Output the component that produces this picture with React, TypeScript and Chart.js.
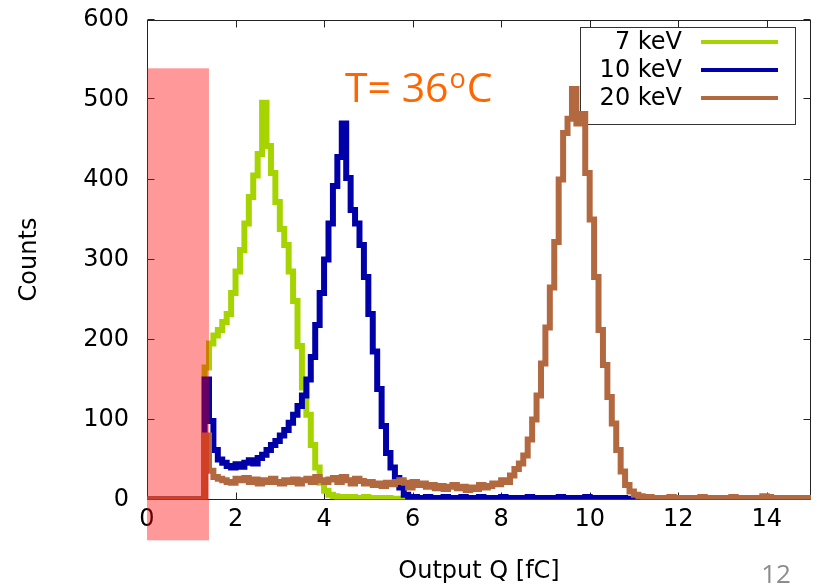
import React, { useEffect, useRef } from "react";
import { Chart, registerables } from "chart.js";

Chart.register(...registerables);

// ---- data ----
const BIN_WIDTH = 0.1; // fC, bins start at 0
const X_MIN = 0;
const X_MAX = 15;
const Y_MIN = 0;
const Y_MAX = 600;
const X_TICK_STEP = 2;
const Y_TICK_STEP = 100;
const X_TITLE = "Output Q [fC]";
const Y_TITLE = "Counts";

const SERIES_LABELS = ["7 keV", "10 keV", "20 keV"];
const SERIES_COLORS = ["#a6d400", "#0000a8", "#b3693f"];

const COUNTS_7KEV = [
  0, 0, 0, 0, 0, 0, 0, 0, 0, 0, 0, 0, 0, 0,
  165, 195, 205, 212, 222, 232, 258, 285, 312, 345, 378, 405, 432, 496, 442, 408,
  372, 338, 318, 285, 248, 192, 140, 106, 68, 40, 21, 11, 6, 4,
  3, 3, 2, 3, 2, 2, 3, 2, 2, 2, 1, 2, 1, 1,
  0, 0, 0, 0, 0, 0, 0, 0, 0, 0, 0, 0, 0, 0, 0, 0, 0, 0, 0, 0, 0, 0,
  0, 0, 0, 0, 0, 0, 0, 0, 0, 0, 0, 0, 0, 0, 0, 0, 0, 0, 0, 0, 0, 0,
  0, 0, 0, 0, 0, 0, 0, 0, 0, 0, 0, 0, 0, 0, 0, 0, 0, 0, 0, 0, 0, 0,
  0, 0, 0, 0, 0, 0, 0, 0, 0, 0, 0, 0, 0, 0, 0, 0, 0, 0, 0, 0, 0, 0,
  0, 0, 0, 0,
];

const COUNTS_10KEV = [
  0, 0, 0, 0, 0, 0, 0, 0, 0, 0, 0, 0, 0, 0,
  150, 98, 62, 50, 46, 42, 40, 44, 41, 46, 49, 45, 52, 56, 62, 68,
  73, 80, 87, 96, 106, 117, 130, 150, 178, 218, 258, 300, 345, 392, 428, 470,
  402, 362, 345, 318, 278, 232, 185, 138, 92, 58, 40, 27, 15, 6,
  2, 3, 2, 2, 3, 2, 1, 2, 3, 2, 2, 2, 3, 1, 2, 2, 3, 2, 2, 1,
  2, 3, 2, 2, 1, 2, 2, 3, 2, 2, 1, 2, 2, 2, 3, 2, 1, 2, 2, 2,
  3, 2, 2, 1, 2, 2, 2, 1, 2, 1, 1,
  0, 0, 0, 0, 0, 0, 0, 0, 0, 0, 0, 0, 0, 0, 0, 0, 0, 0, 0, 0,
  0, 0, 0, 0, 0, 0, 0, 0, 0, 0, 0, 0, 0, 0, 0, 0, 0, 0, 0,
];

const COUNTS_20KEV = [
  0, 0, 0, 0, 0, 0, 0, 0, 0, 0, 0, 0, 0, 0,
  80, 36, 28, 26, 24, 22, 21, 26, 24, 27, 22, 25, 20, 24, 22, 26,
  22, 20, 24, 22, 25, 20, 24, 26, 22, 28, 24, 22, 25, 27, 22, 28,
  24, 20, 26, 23, 20, 22, 18, 20, 17, 21, 19, 22, 24, 21,
  15, 22, 18, 20, 16, 18, 14, 17, 13, 16, 18, 14, 16, 12, 15, 13,
  18, 15, 17, 20, 19, 24, 22, 30, 38, 45, 55, 75, 100, 130,
  170, 215, 265, 322, 400, 458, 476, 513, 470, 482,
  408, 350, 278, 212, 168, 128, 95, 62, 35, 18, 10, 6, 4,
  2, 3, 2, 2, 1, 2, 3, 2, 2, 2, 1, 2, 2, 3, 2, 2, 2, 1, 2, 2,
  3, 2, 2, 2, 2, 1, 2, 4, 3, 2, 2, 2, 1, 2, 2, 2, 2,
];

const SERIES_COUNTS = [COUNTS_7KEV, COUNTS_10KEV, COUNTS_20KEV];

// shaded threshold region (in data units)
const THRESHOLD_X_FROM = 0;
const THRESHOLD_X_TO = 1.4;
const THRESHOLD_Y_TOP = 539;
const THRESHOLD_Y_BOTTOM = -51;

const TEMP_MAIN = "T= 36";
const TEMP_SUP = "o";
const TEMP_UNIT = "C";
const PAGE_NUMBER = "12";

// ---- helpers ----
function toHistogramPoints(counts: number[]) {
  const pts = counts.map((c, i) => ({ x: +(i * BIN_WIDTH).toFixed(3), y: c }));
  pts.push({ x: +(counts.length * BIN_WIDTH).toFixed(3), y: counts[counts.length - 1] });
  return pts;
}

const AXIS_FONT = "'DejaVu Sans', sans-serif";
const FONT_SIZE = 24;

const decorPlugin = {
  id: "decor",
  beforeDatasetsDraw(chart: any) {
    const { ctx, chartArea, scales } = chart;
    const { left, right, top, bottom } = chartArea;
    const xs = scales.x;
    const ys = scales.y;
    ctx.save();
    // frame
    ctx.strokeStyle = "#222";
    ctx.lineWidth = 1;
    const L = Math.round(left) + 0.5;
    const R = Math.round(right) - 0.5;
    const T = Math.round(top) + 0.5;
    const B = Math.round(bottom) - 0.5;
    ctx.strokeRect(L, T, R - L, B - T);
    // inward ticks on all sides
    const tl = 7;
    ctx.beginPath();
    xs.ticks.forEach((t: any) => {
      const px = Math.round(xs.getPixelForValue(t.value)) + 0.5;
      ctx.moveTo(px, B);
      ctx.lineTo(px, B - tl);
      ctx.moveTo(px, T);
      ctx.lineTo(px, T + tl);
    });
    ys.ticks.forEach((t: any) => {
      const py = Math.round(ys.getPixelForValue(t.value)) - 0.5;
      ctx.moveTo(L, py);
      ctx.lineTo(L + tl, py);
      ctx.moveTo(R, py);
      ctx.lineTo(R - tl, py);
    });
    ctx.stroke();

    // legend box (gnuplot style)
    const boxRight = right - 16;
    const boxLeft = boxRight - 215;
    const boxTop = top + 7.5;
    const rowH = 28;
    const n = chart.data.datasets.length;
    const boxBottom = boxTop + 14 + rowH * n - 1;
    ctx.strokeStyle = "#333";
    ctx.strokeRect(Math.round(boxLeft) + 0.5, Math.round(boxTop) + 0.5, Math.round(boxRight - boxLeft), Math.round(boxBottom - boxTop));
    ctx.font = `${FONT_SIZE}px ${AXIS_FONT}`;
    ctx.textAlign = "right";
    ctx.textBaseline = "middle";
    chart.data.datasets.forEach((ds: any, i: number) => {
      const cy = boxTop + 15 + rowH * i;
      ctx.fillStyle = "#000";
      ctx.fillText(ds.label, boxRight - 113, cy + 1);
      ctx.strokeStyle = ds.borderColor;
      ctx.lineWidth = 4;
      ctx.beginPath();
      ctx.moveTo(boxRight - 94, cy);
      ctx.lineTo(boxRight - 17, cy);
      ctx.stroke();
    });
    ctx.restore();
  },
  afterDraw(chart: any) {
    const { ctx, chartArea, scales } = chart;
    const xs = scales.x;
    const ys = scales.y;
    ctx.save();
    // threshold shading, drawn over everything
    const x0 = xs.getPixelForValue(THRESHOLD_X_FROM);
    const x1 = xs.getPixelForValue(THRESHOLD_X_TO);
    const y0 = ys.getPixelForValue(THRESHOLD_Y_TOP);
    const y1 = ys.getPixelForValue(THRESHOLD_Y_BOTTOM);
    ctx.fillStyle = "rgba(255, 0, 0, 0.4)";
    ctx.fillRect(x0, y0, x1 - x0, y1 - y0);

    // temperature annotation
    const tx = chartArea.left + 198;
    const tBase = chartArea.top + 82;
    ctx.fillStyle = "#ff6600";
    ctx.textAlign = "left";
    ctx.textBaseline = "alphabetic";
    ctx.font = "41px 'Open Sans', sans-serif";
    ctx.fillText(TEMP_MAIN, tx, tBase);
    let w = ctx.measureText(TEMP_MAIN).width;
    ctx.font = "27px 'Open Sans', sans-serif";
    ctx.fillText(TEMP_SUP, tx + w + 1, tBase - 14);
    w += ctx.measureText(TEMP_SUP).width + 2;
    ctx.font = "41px 'Open Sans', sans-serif";
    ctx.fillText(TEMP_UNIT, tx + w, tBase);

    // slide page number
    ctx.fillStyle = "#8c8c8c";
    ctx.textAlign = "center";
    ctx.font = "26px 'Open Sans', sans-serif";
    ctx.fillText(PAGE_NUMBER, chartArea.right - 35, chart.height - 5);
    ctx.restore();
  },
};

export default function App() {
  const ref = useRef<HTMLCanvasElement>(null);

  useEffect(() => {
    const canvas = ref.current;
    if (!canvas) return;
    const datasets = SERIES_LABELS.map((label, i) => ({
      label,
      data: toHistogramPoints(SERIES_COUNTS[i]),
      borderColor: SERIES_COLORS[i],
      backgroundColor: SERIES_COLORS[i],
      borderWidth: 6,
      stepped: "after" as const,
      pointRadius: 0,
      fill: false,
      borderJoinStyle: "miter" as const,
      order: SERIES_LABELS.length - i,
    }));

    const chart = new Chart(canvas, {
      type: "line",
      data: { datasets },
      plugins: [decorPlugin],
      options: {
        animation: false,
        responsive: false,
        devicePixelRatio: 1,
        layout: { padding: { top: 19.5, right: 6, left: 0, bottom: 0 } },
        plugins: {
          legend: { display: false },
          tooltip: { enabled: false },
        },
        scales: {
          x: {
            type: "linear",
            min: X_MIN,
            max: X_MAX,
            ticks: {
              stepSize: X_TICK_STEP,
              color: "#000",
              font: { family: AXIS_FONT, size: FONT_SIZE },
              padding: 6,
              maxRotation: 0,
            },
            afterBuildTicks: (s: any) => {
              s.ticks = s.ticks.filter((t: any) => Math.abs(t.value % X_TICK_STEP) < 1e-9);
            },
            grid: { display: false, drawTicks: false },
            border: { display: false },
            title: {
              display: true,
              text: X_TITLE,
              color: "#000",
              font: { family: AXIS_FONT, size: FONT_SIZE },
              padding: { top: 0, bottom: 2 },
            },
            afterFit: (s: any) => {
              s.height = 88.5;
              s.paddingLeft = 0;
              s.paddingRight = 0;
            },
          },
          y: {
            type: "linear",
            min: Y_MIN,
            max: Y_MAX,
            ticks: {
              stepSize: Y_TICK_STEP,
              color: "#000",
              font: { family: AXIS_FONT, size: FONT_SIZE },
              padding: 18,
            },
            grid: { display: false, drawTicks: false },
            border: { display: false },
            title: {
              display: true,
              text: Y_TITLE,
              color: "#000",
              font: { family: AXIS_FONT, size: FONT_SIZE },
              padding: { top: 15, bottom: 0 },
            },
            afterFit: (s: any) => {
              s.width = 147;
              s.paddingTop = 0;
              s.paddingBottom = 0;
            },
          },
        },
      },
    });
    return () => chart.destroy();
  }, []);

  return (
    <div style={{ position: "absolute", left: 0, top: 0, width: 817, height: 588, background: "#fff" }}>
      <canvas ref={ref} width={817} height={588} style={{ display: "block", width: 817, height: 588 }} />
    </div>
  );
}
